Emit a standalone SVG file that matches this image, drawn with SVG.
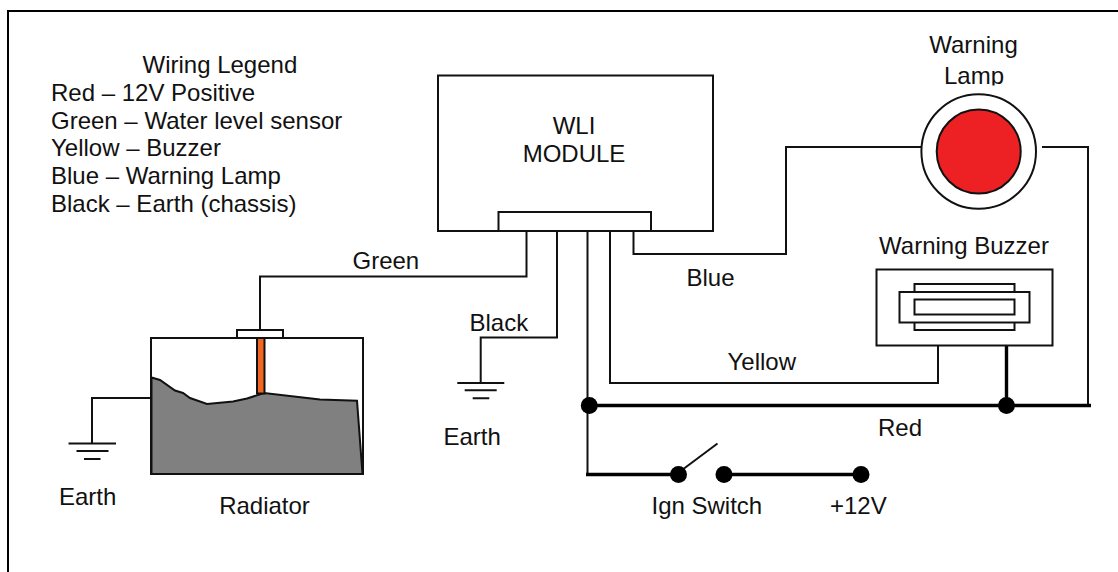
<svg xmlns="http://www.w3.org/2000/svg" width="1118" height="572" viewBox="0 0 1118 572">
<style>
text{font-family:"Liberation Sans",Arial,sans-serif;font-size:24px;fill:#111}
.m{text-anchor:middle}
.w{fill:none;stroke:#111;stroke-width:2}
.t{fill:none;stroke:#000;stroke-width:3.4}
.b{fill:#fff;stroke:#111;stroke-width:2}
.d{fill:#000}
</style>
<rect width="1118" height="572" fill="#fff"/>
<path id="frame" d="M8 572V11H1118" fill="none" stroke="#000" stroke-width="2"/>
<g id="legend">
<text x="142.500" y="73">Wiring Legend</text>
<text x="51" y="101">Red – 12V Positive</text>
<text x="51" y="129">Green – Water level sensor</text>
<text x="51" y="156">Yellow – Buzzer</text>
<text x="51" y="184">Blue – Warning Lamp</text>
<text x="51" y="212">Black – Earth (chassis)</text>
</g>
<g id="connectors">
<path class="w" d="M526.500 231V276.500H260V330"/>
<path class="w" d="M557 231V337.500H480.700V383"/>
<path class="w" d="M587.500 231V474"/>
<path class="w" d="M610 231V383H938V345"/>
<path class="w" d="M633.500 231V254H786V147H921"/>
<path class="w" d="M1042 147H1088V405"/>
<path class="w" d="M151 398H92V443"/>
<path class="t" d="M588 405.500H1091"/>
<path class="t" d="M1006.500 344V405"/>
<path class="t" d="M586 474.500H678"/>
<path class="t" d="M724 474.500H861"/>
<path class="w" d="M682 470L717.500 443.500"/>
</g>
<g id="wli-module">
<rect class="b" x="438" y="75.500" width="275" height="155.500"/>
<rect class="b" x="498.500" y="212" width="152.500" height="19"/>
<text class="m" x="574" y="134">WLI</text>
<text class="m" x="574" y="162">MODULE</text>
</g>
<g id="radiator">
<rect class="b" x="151" y="338" width="212" height="136"/>
<path d="M151.500 377.500L160 380L175 390.500L183 393L190 398L207 404L233 401.500L247 398.500L264 393L320 399.500L357 400.700L362.500 474H151.500Z" fill="#808080" stroke="#111" stroke-width="2"/>
<rect x="257" y="338" width="7.500" height="55.500" fill="#f26522" stroke="#111" stroke-width="2"/>
<rect class="b" x="237" y="330" width="46" height="8"/>
<text class="m" x="264.500" y="514">Radiator</text>
</g>
<g id="earth-left">
<path class="w" d="M68.500 443.500H116M76.500 451H108.500M84 459H100.500"/>
<text x="59" y="505">Earth</text>
</g>
<g id="earth-module">
<path class="w" d="M457.300 383H504.300M464.700 390.300H496.700M472.700 398.300H489.300"/>
<text x="443.500" y="444.500">Earth</text>
</g>
<g id="warning-lamp">
<text class="m" x="973.500" y="52.500">Warning</text>
<text class="m" x="974" y="83.500">Lamp</text>
<rect x="930" y="85.500" width="90" height="12" fill="#fff"/>
<circle cx="978.700" cy="151.500" r="57.300" fill="#fff" stroke="#111" stroke-width="2"/>
<circle cx="978.700" cy="151.500" r="42" fill="#ed2024" stroke="#111" stroke-width="2"/>
</g>
<g id="warning-buzzer">
<rect class="b" x="876.500" y="269.500" width="176" height="76"/>
<rect class="b" x="914.500" y="284" width="100" height="46"/>
<rect class="b" x="899.500" y="292" width="130" height="30.500"/>
<rect class="b" x="914.500" y="299.500" width="100" height="15" stroke-width="2.500"/>
<text class="m" x="964" y="254">Warning Buzzer</text>
</g>
<g id="junctions">
<circle class="d" cx="589.300" cy="405.500" r="8.500"/>
<circle class="d" cx="1006.500" cy="405.500" r="8.500"/>
<circle class="d" cx="678.500" cy="474.500" r="8.500"/>
<circle class="d" cx="724" cy="474.500" r="8.500"/>
<circle class="d" cx="861" cy="474.500" r="8.500"/>
</g>
<g id="labels">
<text x="352.500" y="269">Green</text>
<text x="469.500" y="330.500">Black</text>
<text x="686.500" y="285.500">Blue</text>
<text x="727.500" y="369.500">Yellow</text>
<text x="878" y="436">Red</text>
<text x="651.500" y="514">Ign Switch</text>
<text x="830" y="514">+12V</text>
</g>
</svg>
